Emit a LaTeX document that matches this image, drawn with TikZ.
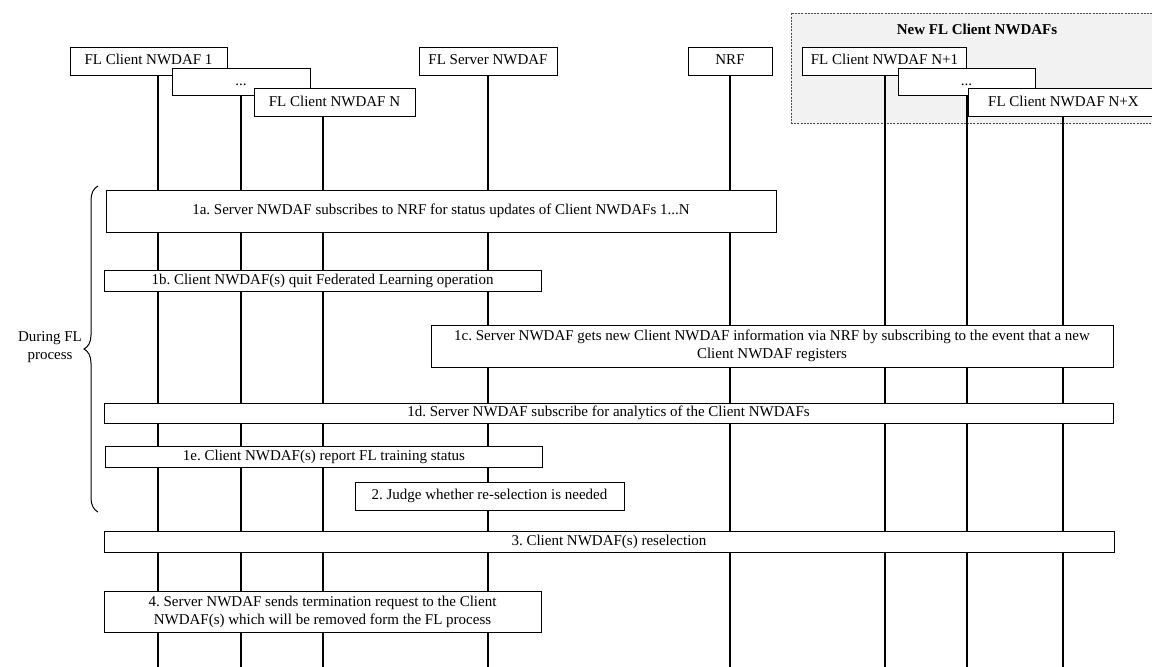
\documentclass[tikz,border=0pt]{standalone}
\usepackage{fontspec}
\setmainfont{Liberation Serif}
\usetikzlibrary{decorations.pathreplacing}
\frenchspacing

\begin{document}
\begin{tikzpicture}[x=1pt, y=-1pt, font=\fontsize{15}{18}\selectfont,
  entity/.style={draw, fill=white, line width=0.9pt, minimum height=28pt, inner sep=0pt, text height=10.5pt, text depth=3pt},
  action/.style={draw, fill=white, line width=0.9pt, inner sep=0pt, align=center},
  lifeline/.style={line width=1.1pt}]
  \clip (0,0) rectangle (1152,667);
  % Group of new clients
  \node[draw=black!70, dash pattern=on 2pt off 1.2pt, fill=black!5, minimum width=372pt, minimum height=110pt, inner sep=0pt] (newgrp) at (977,68) {};
  \node[font=\fontsize{15}{18}\selectfont\bfseries] (newtitle) at (977,29) {New FL Client NWDAFs};
  % Entities
  \node[entity, minimum width=157pt] (c1) at (148.5,61) {FL Client NWDAF 1};
  \node[entity, minimum width=138pt] (srv) at (488,61) {FL Server NWDAF};
  \node[entity, minimum width=84pt] (nrf) at (730,61) {NRF};
  \node[entity, minimum width=164pt] (n1) at (884.5,61) {FL Client NWDAF N+1};
  \node[entity, minimum width=138pt, minimum height=27pt] (cdots) at (241,81.5) {...};
  \node[entity, minimum width=137pt, minimum height=27pt] (ndots) at (966.5,81.5) {...};
  \node[entity, minimum width=161pt] (cN) at (334.5,102.5) {FL Client NWDAF N};
  \node[entity, minimum width=191pt] (nx) at (1063.5,102.5) {FL Client NWDAF N+X};
  % Lifelines
  \foreach \n/\x in {c1/158, cdots/241, cN/323, srv/488, nrf/730, n1/885, ndots/967, nx/1063}{
    \coordinate (\n end) at (\x,667);
    \draw[lifeline] (\n end |- \n.south) -- (\n end);
  }
  % Steps
  \node[action, minimum width=670pt, minimum height=42pt] (s1a) at (441,211) {1a. Server NWDAF subscribes to NRF for status updates of Client NWDAFs 1...N};
  \node[action, minimum width=437pt, minimum height=21pt] (s1b) at (322.5,280.5) {1b. Client NWDAF(s) quit Federated Learning operation};
  \node[action, minimum width=682pt, minimum height=42pt] (s1c) at (772,346) {1c. Server NWDAF gets new Client NWDAF information via NRF by subscribing to the event that a new\\Client NWDAF registers};
  \node[action, minimum width=1009pt, minimum height=20pt] (s1d) at (608.5,413) {1d. Server NWDAF subscribe for analytics of the Client NWDAFs};
  \node[action, minimum width=437pt, minimum height=21pt] (s1e) at (324,456.5) {1e. Client NWDAF(s) report FL training status};
  \node[action, minimum width=269pt, minimum height=28pt] (s2) at (489.5,496) {2. Judge whether re-selection is needed};
  \node[action, minimum width=1010pt, minimum height=21pt] (s3) at (609,541.5) {3. Client NWDAF(s) reselection};
  \node[action, minimum width=437pt, minimum height=41pt] (s4) at (322.5,611.5) {4. Server NWDAF sends termination request to the Client\\NWDAF(s) which will be removed form the FL process};
  % FL process phase
  \coordinate (brbot) at (98,512);
  \coordinate (brtop) at (98,186);
  \draw[line width=1pt, decorate, decoration={brace, amplitude=14pt}] (brbot) -- (brtop);
  \node[align=center] (phase) at (50,347) {During FL\\process};
\end{tikzpicture}
\end{document}
